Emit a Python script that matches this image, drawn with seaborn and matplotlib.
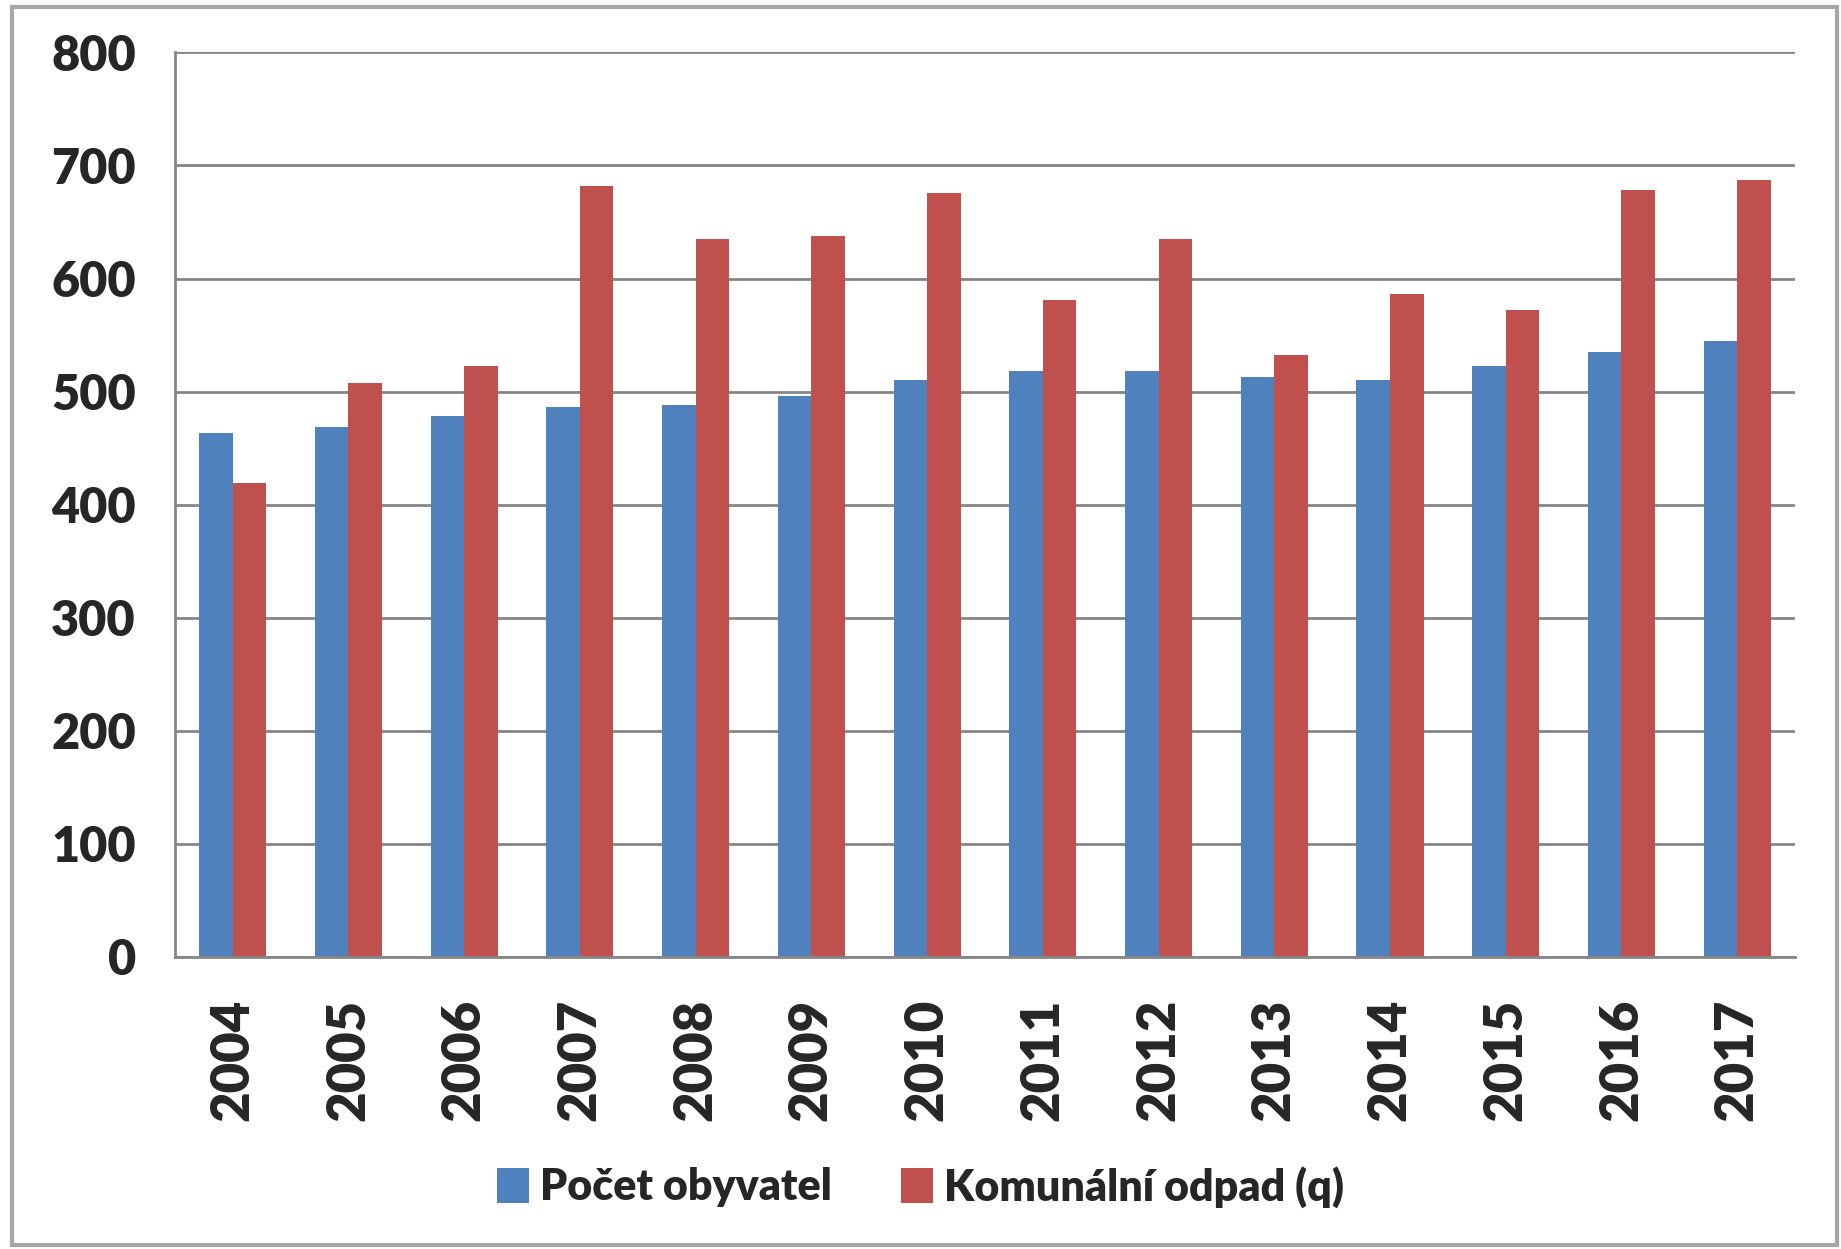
import matplotlib
matplotlib.use("Agg")
import matplotlib.pyplot as plt
import seaborn as sns
import pandas as pd
from matplotlib.patches import Rectangle

years = ["2004", "2005", "2006", "2007", "2008", "2009", "2010",
         "2011", "2012", "2013", "2014", "2015", "2016", "2017"]
obyvatel = [463, 469, 478, 486, 488, 496, 510, 518, 518, 513, 510, 523, 535, 545]
odpad = [419, 508, 523, 682, 635, 638, 676, 581, 635, 532, 586, 572, 678, 687]
series_names = ["Počet obyvatel", "Komunální odpad (q)"]
y_ticks = [0, 100, 200, 300, 400, 500, 600, 700, 800]

df = pd.DataFrame({
    "rok": years * 2,
    "hodnota": obyvatel + odpad,
    "serie": [series_names[0]] * len(years) + [series_names[1]] * len(years),
})

sns.set_theme(style="white")
plt.rcParams["font.family"] = ["Lato", "DejaVu Sans"]
plt.rcParams["font.weight"] = "bold"

fig = plt.figure(figsize=(18.41, 12.49), dpi=100)
ax = fig.add_axes([0.095, 0.234, 0.88, 0.724])

palette = {series_names[0]: "#4F81BD", series_names[1]: "#C0504D"}
sns.barplot(data=df, x="rok", y="hodnota", hue="serie", palette=palette,
            width=0.58, ax=ax, saturation=1, legend=True, linewidth=0)

ax.set_ylim(0, 800)
ax.set_xlim(-0.5, len(years) - 0.5)
ax.set_yticks(y_ticks)
ax.set_yticklabels([str(v) for v in y_ticks], fontsize=35, fontweight="heavy")
ax.set_xticks(range(len(years)))
ax.set_xticklabels(years, rotation=90, fontsize=38, fontweight="heavy")
ax.set_xticks([i + 0.5 for i in range(-1, len(years))], minor=True)
ax.tick_params(axis="x", which="major", length=0, pad=30)
ax.tick_params(axis="x", which="minor", length=14, width=2, color="#868686", direction="out")
ax.tick_params(axis="y", which="major", length=16, width=2, color="#868686", direction="out", pad=12)
ax.set_xlabel("")
ax.set_ylabel("")

ax.yaxis.grid(True, color="#868686", linewidth=2)
ax.set_axisbelow(True)
for side in ["top", "right"]:
    ax.spines[side].set_visible(False)
for side in ["left", "bottom"]:
    ax.spines[side].set_color("#868686")
    ax.spines[side].set_linewidth(2)

handles, labels = ax.get_legend_handles_labels()
ax.legend_.remove()
fig.legend(handles, labels, loc="center", bbox_to_anchor=(0.5, 0.05), ncol=2,
           frameon=False, prop={"size": 31, "weight": "heavy"},
           handlelength=0.75, handleheight=0.9, handletextpad=0.25, columnspacing=1.6)

fig.patches.append(Rectangle((12 / 1841, 4 / 1249), 1 - 16 / 1841, 1 - 11 / 1249,
                             transform=fig.transFigure, fill=False,
                             edgecolor="#A6A6A6", linewidth=3))

fig.savefig("out.png", dpi=100, facecolor="white")
